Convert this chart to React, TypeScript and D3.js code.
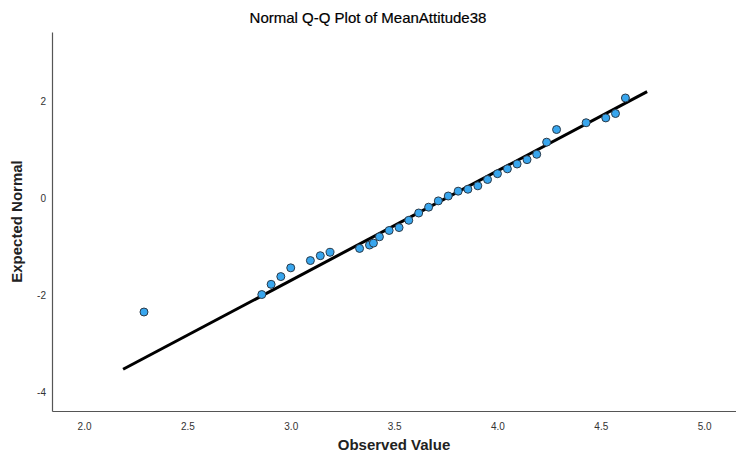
import { axisBottom, axisLeft, line, scaleLinear, select } from 'd3';
import React, { useEffect, useRef } from 'react';

// observed values (MeanAttitude38) and their expected normal scores
const observed = [
	2.29, 2.86, 2.905, 2.952, 3.0, 3.095, 3.143, 3.19, 3.333, 3.381, 3.40, 3.429,
	3.476, 3.524, 3.571, 3.619, 3.667, 3.714, 3.762, 3.81, 3.857, 3.905, 3.952,
	4.0, 4.048, 4.095, 4.143, 4.19, 4.238, 4.286, 4.429, 4.524, 4.571, 4.619
];
const expected = [
	-2.35, -1.99, -1.78, -1.62, -1.44, -1.29, -1.19, -1.12, -1.04, -0.97, -0.93, -0.80,
	-0.67, -0.61, -0.46, -0.31, -0.19, -0.06, 0.04, 0.14, 0.18, 0.25, 0.38,
	0.50, 0.60, 0.70, 0.79, 0.90, 1.15, 1.41, 1.55, 1.65, 1.74, 2.06
];
// reference line end points
const lineX = [2.189, 4.724];
const lineY = [-3.53, 2.19];

const xTicks = [2.0, 2.5, 3.0, 3.5, 4.0, 4.5, 5.0];
const yTicks = [-4, -2, 0, 2];

const width = 736;
const height = 455;

export default function App() {
	const ref = useRef<SVGSVGElement>(null);

	useEffect(() => {
		const margin = { left: 52, top: 32, right: 0, bottom: 44 };
		const x = scaleLinear().domain([1.845, 5.154]).range([margin.left, width - margin.right]);
		const y = scaleLinear().domain([-4.39, 3.42]).range([height - margin.bottom, margin.top]);

		const svg = select(ref.current);
		svg.selectAll('*').remove();

		const font = '"Liberation Sans", Arial, sans-serif';

		svg.append('text')
			.attr('x', 368)
			.attr('y', 23)
			.attr('text-anchor', 'middle')
			.attr('font-family', font)
			.attr('font-size', 15)
			.attr('fill', '#000')
			.attr('stroke', '#000')
			.attr('stroke-width', 0.2)
			.text('Normal Q-Q Plot of MeanAttitude38');

		const xAxis = svg.append('g')
			.attr('transform', `translate(0,${height - margin.bottom})`)
			.call(axisBottom(x).tickValues(xTicks).tickFormat(d => (+d).toFixed(1)).tickSize(0).tickPadding(12));
		const yAxis = svg.append('g')
			.attr('transform', `translate(${margin.left},0)`)
			.call(axisLeft(y).tickValues(yTicks).tickFormat(d => String(d)).tickSize(0).tickPadding(6));

		[xAxis, yAxis].forEach(g => {
			g.select('.domain').attr('stroke', '#555').attr('stroke-width', 1.2);
			g.selectAll('text').attr('font-family', font).attr('font-size', 10).attr('fill', '#333');
		});

		svg.append('text')
			.attr('x', (margin.left + width) / 2)
			.attr('y', 450)
			.attr('text-anchor', 'middle')
			.attr('font-family', font)
			.attr('font-size', 15)
			.attr('font-weight', 'bold')
			.attr('fill', '#222')
			.text('Observed Value');

		svg.append('text')
			.attr('transform', `translate(22,${(margin.top + height - margin.bottom) / 2}) rotate(-90)`)
			.attr('text-anchor', 'middle')
			.attr('font-family', font)
			.attr('font-size', 15)
			.attr('font-weight', 'bold')
			.attr('fill', '#222')
			.text('Expected Normal');

		const fit = line<number>()
			.x(i => x(lineX[i]))
			.y(i => y(lineY[i]));
		svg.append('path')
			.attr('d', fit([0, 1]))
			.attr('fill', 'none')
			.attr('stroke', '#000')
			.attr('stroke-width', 3);

		svg.append('g')
			.selectAll('circle')
			.data(observed.map((v, i) => [v, expected[i]]))
			.join('circle')
			.attr('cx', d => x(d[0]))
			.attr('cy', d => y(d[1]))
			.attr('r', 4)
			.attr('fill', '#38a6ee')
			.attr('stroke', '#2b3a48')
			.attr('stroke-width', 1);
	}, []);

	return (
		<svg
			ref={ref}
			width={width}
			height={height}
			style={{ position: 'absolute', left: 0, top: 0, background: '#fff' }}
		/>
	);
}
